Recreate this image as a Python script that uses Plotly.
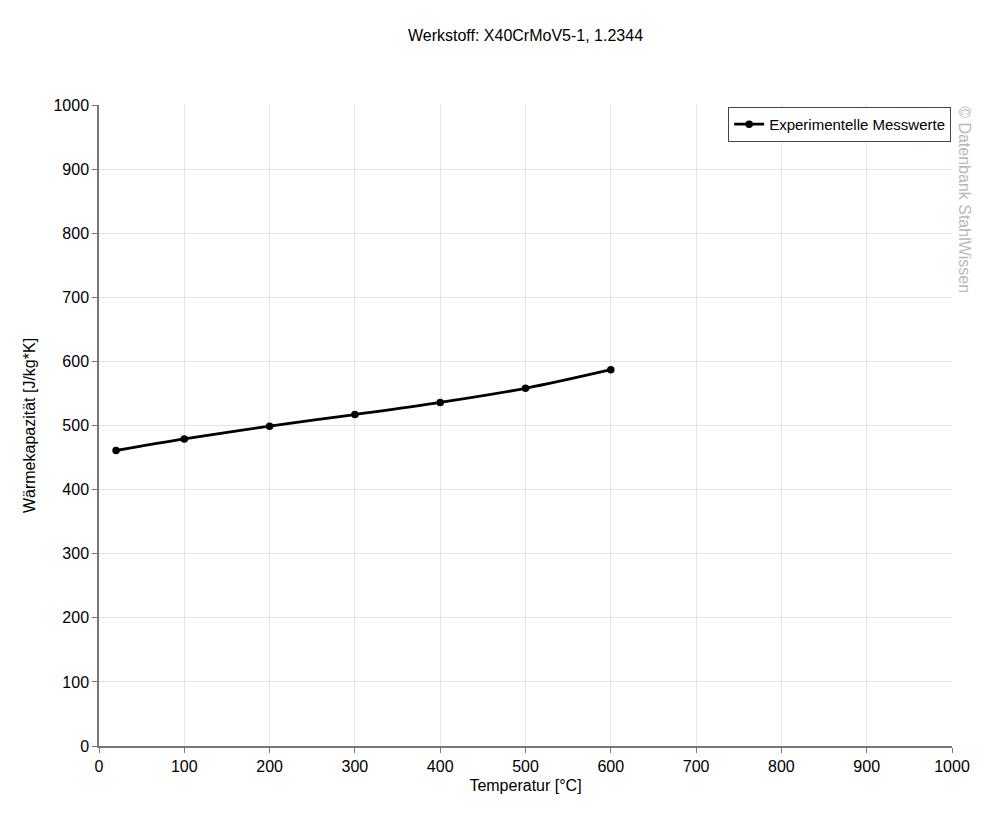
import plotly.graph_objects as go

# Messwerte
temperatur = [20, 100, 200, 300, 400, 500, 600]
waermekapazitaet = [461, 479, 499, 517, 536, 558, 587]

fig = go.Figure()

fig.add_trace(go.Scatter(
    x=temperatur,
    y=waermekapazitaet,
    mode='lines+markers',
    name='Experimentelle Messwerte',
    showlegend=True,
    line=dict(color='black', width=2.8, shape='spline'),
    marker=dict(color='black', size=7.5),
))

axis_style = dict(
    range=[0, 1000],
    dtick=100,
    showgrid=True,
    gridcolor='#e3e3e3',
    gridwidth=1,
    showline=True,
    linecolor='#777777',
    linewidth=1.5,
    ticks='outside',
    ticklen=5,
    tickcolor='#777777',
    zeroline=False,
    tickfont=dict(size=16, color='black'),
)

fig.update_xaxes(title=dict(text='Temperatur [°C]', font=dict(size=16, color='black'), standoff=6), **axis_style)
fig.update_yaxes(title=dict(text='Wärmekapazität [J/kg*K]', font=dict(size=16, color='black'), standoff=14), **axis_style)

# page body has an 8px margin, so the margins are shifted by that much
fig.update_layout(
    width=1000,
    height=826,
    margin=dict(l=91, r=56, t=97, b=88),
    paper_bgcolor='white',
    plot_bgcolor='white',
    font=dict(family='Liberation Sans, Arial, sans-serif', size=16, color='black'),
    title=dict(text='Werkstoff: X40CrMoV5-1, 1.2344', xref='paper', x=0.5, xanchor='center',
               y=0.967, yanchor='middle', font=dict(size=16, color='black')),
    legend=dict(x=0.999, y=0.997, xanchor='right', yanchor='top', bgcolor='white',
                bordercolor='#444444', borderwidth=1, font=dict(size=15),
                itemwidth=30, tracegroupgap=0),
    annotations=[dict(
        text='© Datenbank StahlWissen',
        xref='paper', yref='paper', x=1.003, y=1.002, xanchor='left', yanchor='top',
        textangle=90, showarrow=False,
        font=dict(size=16, color='#b8b8b8'),
    )],
)

fig.write_html("out.html")
